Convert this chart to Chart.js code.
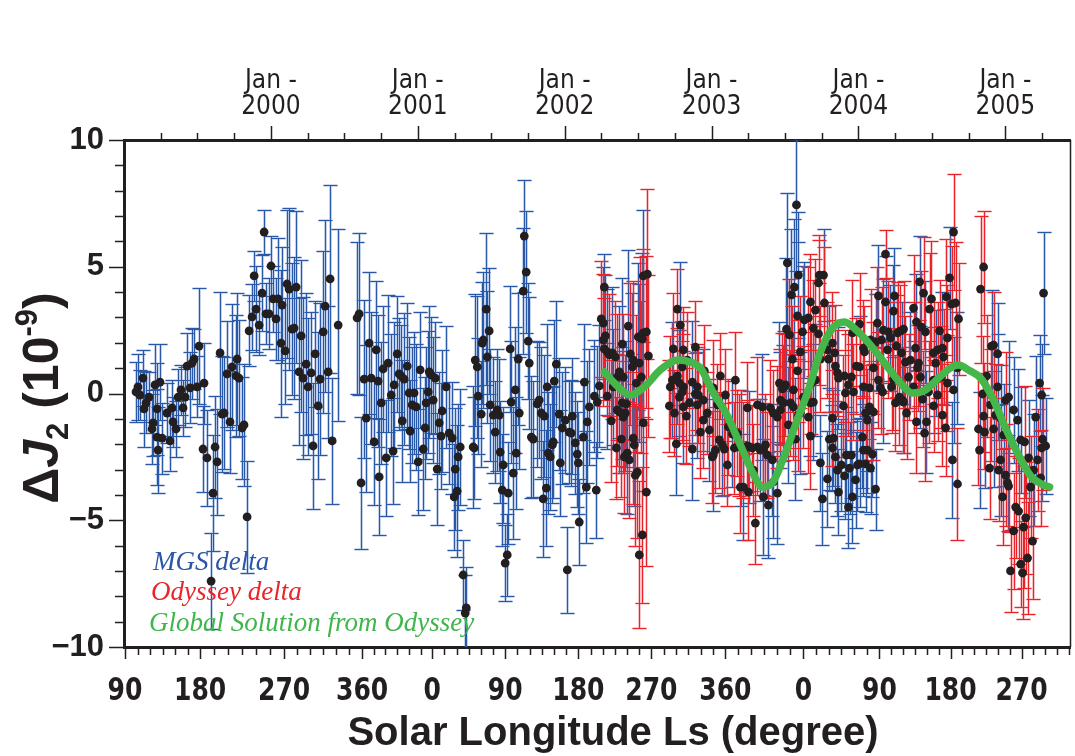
<!DOCTYPE html>
<html>
<head>
<meta charset="utf-8">
<title>Delta J2</title>
<script src="https://cdn.jsdelivr.net/npm/chart.js@4.4.1/dist/chart.umd.min.js"></script>
<style>
  html, body { margin: 0; padding: 0; background: #fff; }
</style>
</head>
<body>
<canvas id="j2Chart" width="1075" height="756"></canvas>
<script>
// time in decimal years, J2 residuals in units of 1e-9, err = 1-sigma half length

// MGS delta
const mgsT = [
  1999.082,1999.095,1999.109,1999.129,1999.136,1999.150,1999.170,1999.191,1999.198,1999.211,
  1999.225,1999.225,1999.232,1999.245,1999.259,1999.293,1999.313,1999.327,1999.334,1999.354,
  1999.368,1999.388,1999.402,1999.416,1999.429,1999.450,1999.463,1999.477,1999.497,1999.511,
  1999.538,1999.545,1999.565,1999.593,1999.606,1999.620,1999.634,1999.654,1999.668,1999.681,
  1999.702,1999.722,1999.736,1999.763,1999.770,1999.783,1999.804,1999.817,1999.838,1999.852,
  1999.872,1999.886,1999.899,1999.920,1999.940,1999.954,1999.967,1999.988,2000.001,2000.015,
  2000.035,2000.049,2000.069,2000.076,2000.097,2000.110,2000.124,2000.144,2000.158,2000.172,
  2000.192,2000.206,2000.219,2000.240,2000.253,2000.274,2000.287,2000.301,2000.322,2000.335,
  2000.356,2000.369,2000.390,2000.403,2000.417,2000.458,2000.587,2000.601,2000.614,2000.635,
  2000.649,2000.669,2000.683,2000.703,2000.717,2000.730,2000.737,2000.751,2000.764,2000.785,
  2000.798,2000.819,2000.832,2000.839,2000.860,2000.873,2000.887,2000.894,2000.907,2000.928,
  2000.941,2000.948,2000.962,2000.975,2000.989,2001.003,2001.016,2001.037,2001.050,2001.057,
  2001.071,2001.078,2001.091,2001.105,2001.119,2001.132,2001.146,2001.159,2001.166,2001.193,
  2001.214,2001.234,2001.248,2001.255,2001.268,2001.275,2001.289,2001.309,2001.323,2001.330,
  2001.377,2001.384,2001.391,2001.405,2001.411,2001.432,2001.439,2001.446,2001.466,2001.473,
  2001.486,2001.493,2001.514,2001.527,2001.541,2001.555,2001.561,2001.575,2001.582,2001.595,
  2001.609,2001.616,2001.629,2001.636,2001.650,2001.664,2001.670,2001.684,2001.691,2001.718,
  2001.725,2001.738,2001.752,2001.759,2001.773,2001.786,2001.813,2001.827,2001.841,2001.854,
  2001.861,2001.875,2001.881,2001.888,2001.902,2001.916,2001.922,2001.929,2001.943,2001.963,
  2001.970,2001.984,2002.004,2002.018,2002.031,2002.045,2002.052,2002.072,2002.086,2002.093,
  2002.099,2002.127,2002.134,2002.147,2002.154,2002.168,2002.202,2002.215,2002.222,2002.236,
  2002.263,2002.270,2002.277,2002.290,2002.324,2002.331,2002.372,2002.392,2002.433,2002.461,
  2002.501,2002.529,2002.508,2002.535,2002.392,2002.290,2002.372,2002.420,2002.426,2002.474,
  2002.535,2002.733,2002.781,2002.787,2002.869,2002.944,2002.760,2002.808,2002.869,2002.903,
  2002.985,2003.012,2003.074,2003.142,2003.203,2003.258,2003.332,2003.217,2003.353,2003.387,
  2003.414,2003.448,2003.421,2003.469,2003.523,2003.571,2003.693,2003.605,2003.346,2003.462,
  2003.489,2003.516,2003.510,2003.544,2003.564,2003.578,2003.585,2003.591,2003.619,2003.632,
  2003.673,2003.707,2003.762,2003.796,2003.864,2003.741,2003.755,2003.789,2003.802,2003.823,
  2003.843,2003.864,2003.857,2003.830,2003.884,2003.905,2003.918,2003.932,2003.939,2003.952,
  2003.959,2003.980,2003.993,2004.007,2004.034,2004.048,2004.061,2004.082,2004.095,2004.116,
  2004.027,2004.061,2003.952,2004.007,2004.116,2004.136,2004.170,2004.184,2004.218,2004.238,
  2004.245,2004.293,2004.354,2004.395,2004.416,2004.456,2004.525,2004.572,2004.620,2004.674,
  2004.164,2004.300,2004.422,2004.511,2004.647,2004.463,2004.640,2004.906,2004.947,2005.260,
  2005.233,2005.247,2004.824,2004.858,2004.920,2004.947,2004.967,2004.988,2005.015,2005.022,
  2005.056,2005.083,2005.104,2005.158,2005.192,2005.206,2005.247,2005.274,2004.967
];
const mgsJ2 = [
  0.06,0.26,-0.06,0.61,-0.61,-0.37,-0.14,-1.40,-1.16,0.34,
  -0.61,-1.72,-2.23,0.45,-1.76,-0.77,-1.87,-0.57,-1.12,-1.40,
  -0.14,0.14,-0.57,-0.14,1.08,0.22,1.20,1.36,0.26,1.87,
  -2.19,0.41,-2.54,-7.40,-3.93,-2.11,-2.70,1.60,-0.81,-0.77,
  0.77,-1.12,1.05,0.69,1.36,0.61,-1.36,-1.24,-4.87,2.47,
  3.02,4.64,3.33,2.70,3.96,6.37,3.14,3.14,5.03,3.73,
  2.94,3.73,1.99,3.49,1.68,4.32,4.12,2.54,2.58,4.20,
  0.85,2.27,0.61,1.16,0.26,0.81,-2.07,1.56,-0.49,0.57,
  2.43,3.45,0.85,4.52,-1.87,2.70,2.98,3.14,-3.53,0.57,
  -0.97,1.99,0.61,-1.91,1.72,0.49,-3.29,-0.37,0.97,-2.54,
  1.20,-0.06,-2.27,0.34,1.56,0.77,0.69,-1.08,0.57,1.08,
  0.02,-1.48,-0.45,0.02,-0.53,-2.70,0.93,-2.19,-1.36,-0.37,
  0.06,0.85,0.73,-0.26,0.61,-2.98,-1.16,-1.68,-0.69,0.26,
  -1.56,-1.76,-4.08,-2.98,-3.85,-2.50,-2.11,-7.16,-8.66,-8.46,
  -2.11,-2.15,1.32,1.05,-0.10,-0.81,1.99,2.11,3.33,1.44,
  2.47,-0.45,-0.85,-1.52,-0.65,-0.85,-2.31,-3.81,-2.82,-6.69,
  -6.37,-3.93,1.76,-0.34,-3.14,0.14,-2.35,1.36,-0.77,4.04,
  6.21,4.79,2.07,1.20,-1.72,-1.80,-0.41,-0.26,-0.77,-4.16,
  -0.89,-3.73,0.26,-2.35,-2.50,-2.03,-1.91,0.49,1.16,-0.81,
  -2.74,-1.36,-1.05,-6.96,-1.52,-1.56,-0.89,-1.95,-2.39,-2.74,
  -5.07,-1.72,0.45,-3.69,-1.12,-0.53,-0.10,-3.81,-0.34,0.30,
  2.78,4.20,2.27,1.64,1.60,0.26,0.85,1.95,2.66,1.05,
  2.23,2.15,1.20,4.64,-0.37,-0.10,-0.73,-0.41,-2.35,-2.03,
  -1.16,0.53,0.41,2.70,0.45,-0.26,-1.99,-0.53,-2.19,-0.45,
  -1.44,-2.43,-2.03,-1.60,-2.15,-2.11,-2.23,-3.69,-4.08,-4.40,
  -2.62,-3.93,-3.49,-0.65,-1.24,-1.80,-0.34,-0.77,-0.53,0.41,
  -0.37,5.15,2.54,3.89,4.20,7.44,3.06,4.67,2.43,2.90,
  -0.37,0.53,4.67,1.36,0.61,-2.74,-4.16,-3.37,-1.80,-2.15,
  -2.50,-3.89,-3.02,-1.76,-2.82,-3.25,-2.43,-4.48,-2.94,-2.43,
  -4.08,-3.41,-2.82,-2.78,-2.23,-2.78,-2.23,-2.94,-2.39,-3.77,
  -1.72,-1.05,0.65,1.05,2.03,3.85,2.50,3.61,2.19,3.25,
  3.85,1.60,1.32,2.82,4.40,2.43,1.20,1.79,4.56,1.01,
  0.06,-0.26,0.65,0.53,0.14,-1.12,-2.62,1.87,1.56,3.96,
  0.41,-0.06,-2.23,-1.52,-1.40,0.26,-2.62,-1.64,-3.53,-0.14,
  -0.65,-1.05,-1.83,-2.54,-3.02,-0.93,-2.15,-2.07,-0.97
];
const mgsErr = [
  1.2,1.3,1.0,1.1,1.5,1.2,1.0,1.4,1.3,1.6,
  1.8,1.9,1.7,1.5,1.4,1.2,1.2,1.1,1.0,1.1,
  1.1,1.0,1.1,1.2,1.3,1.4,1.4,1.2,1.2,2.3,
  1.7,1.6,1.9,1.9,2.3,2.0,2.1,2.4,2.3,2.2,
  2.1,2.0,2.5,2.4,2.6,2.3,2.0,2.4,2.2,1.4,
  1.3,1.0,1.7,1.2,1.5,0.85,1.2,1.4,1.2,1.3,
  1.6,2.4,2.9,2.3,2.1,2.9,3.2,2.6,2.8,3.0,
  2.9,3.0,3.2,2.8,2.7,2.4,2.5,2.1,2.9,3.0,
  3.2,3.4,2.6,3.7,2.5,3.8,3.0,3.2,2.6,3.1,
  2.9,2.8,2.6,2.5,2.7,2.6,2.3,2.4,2.5,2.3,
  2.7,2.4,2.1,2.5,2.3,2.2,2.0,2.4,2.6,2.5,
  2.2,2.0,2.3,2.4,2.5,2.1,2.3,2.4,2.0,2.2,
  2.4,2.6,2.3,2.5,2.2,2.2,2.0,2.1,2.4,2.4,
  2.0,2.2,2.1,2.4,2.6,2.1,2.3,1.4,1.5,1.6,
  2.4,2.0,2.6,2.8,2.3,2.1,2.4,2.7,3.0,2.6,
  2.5,2.2,2.3,2.0,2.4,2.2,2.0,2.2,2.3,1.5,
  1.6,2.0,2.5,2.4,2.6,2.5,2.2,2.6,2.2,2.5,
  2.2,2.4,2.3,2.6,2.4,2.3,2.5,2.3,2.6,2.3,
  2.4,2.3,2.5,2.4,2.1,2.3,2.2,2.4,2.5,2.2,
  2.1,2.2,2.1,1.7,2.0,2.1,2.3,2.0,2.1,2.0,
  1.7,2.2,2.3,2.2,2.4,2.3,2.2,1.9,2.2,2.4,
  2.2,1.3,2.4,2.5,2.6,2.3,2.6,2.6,3.0,2.9,
  2.9,3.4,3.1,2.6,2.2,2.1,2.4,2.5,2.4,2.4,
  2.7,2.3,2.1,2.5,2.4,2.0,2.0,2.2,2.0,2.1,
  2.0,2.2,2.0,2.1,2.3,2.2,2.0,2.1,2.3,2.1,
  2.2,2.0,2.2,2.3,2.3,2.4,2.3,2.4,2.1,2.4,
  2.3,2.75,2.8,2.6,2.7,2.6,2.9,2.5,2.6,2.3,
  2.1,2.2,1.8,2.1,2.0,1.9,1.8,1.9,2.0,1.7,
  1.8,1.7,1.8,1.9,1.8,1.7,1.9,1.6,1.8,1.7,
  1.8,1.9,1.8,1.7,1.8,1.9,1.7,1.8,1.7,1.6,
  2.0,2.0,2.1,2.0,1.9,2.0,2.0,1.8,2.1,1.8,
  1.9,2.0,1.9,1.9,1.8,2.0,2.1,2.2,2.0,2.2,
  2.0,2.1,2.0,2.1,2.1,2.0,2.3,2.2,2.0,2.4,
  1.9,2.0,2.3,2.2,2.3,2.1,2.2,2.0,1.9,2.2,
  2.1,2.0,2.1,2.3,2.2,2.4,2.1,1.9,2.1
];

// Odyssey delta
const odyT = [
  2002.249,2002.263,2002.270,2002.304,2002.345,2002.358,2002.399,2002.447,2002.467,2002.488,
  2002.515,2002.535,2002.522,2002.563,2002.556,2002.570,2002.413,2002.358,2002.317,2002.352,
  2002.399,2002.386,2002.406,2002.440,2002.467,2002.495,2002.481,2002.556,2002.529,2002.508,
  2002.719,2002.740,2002.767,2002.767,2002.801,2002.808,2002.808,2002.835,2002.890,2002.903,
  2002.910,2002.951,2003.012,2003.040,2002.713,2002.747,2002.781,2002.801,2002.828,2002.849,
  2002.890,2002.924,2002.944,2002.971,2003.005,2003.026,2003.053,2003.087,2003.108,2003.114,
  2003.155,2003.176,2003.189,2003.217,2003.244,2003.278,2003.285,2003.312,2003.353,2003.367,
  2003.251,2003.196,2003.298,2003.380,2003.401,2003.421,2003.448,2003.482,2003.503,2003.537,
  2003.557,2003.591,2003.625,2003.659,2003.673,2003.557,2003.244,2003.312,2003.094,2003.162,
  2003.060,2003.496,2003.469,2003.530,2003.550,2003.585,2003.605,2003.659,2003.673,2003.680,
  2003.693,2003.707,2003.728,2003.734,2003.768,2003.728,2003.741,2003.789,2003.823,2003.843,
  2003.857,2003.823,2003.898,2003.966,2004.048,2004.075,2004.102,2003.837,2003.905,2003.932,
  2003.911,2003.986,2004.007,2003.959,2004.041,2004.034,2004.075,2004.102,2004.129,2004.157,
  2004.184,2004.198,2004.204,2004.266,2004.286,2004.307,2004.320,2004.341,2004.375,2004.388,
  2004.409,2004.429,2004.443,2004.484,2004.497,2004.511,2004.538,2004.552,2004.579,2004.599,
  2004.606,2004.634,2004.647,2004.661,2004.681,2004.034,2004.082,2004.259,2004.136,2004.225,
  2004.238,2004.279,2004.375,2004.402,2004.436,2004.477,2004.538,2004.565,2004.606,2004.150,
  2004.252,2004.307,2004.327,2004.395,2004.450,2004.511,2004.572,2004.593,2004.674,2004.831,
  2004.852,2004.920,2004.872,2004.845,2004.817,2004.852,2004.892,2004.954,2004.981,2005.001,
  2005.022,2005.070,2005.090,2005.131,2005.138,2005.124,2005.056,2005.104,2005.151,2005.035,
  2005.117,2005.172,2005.185,2005.219,2005.240,2005.253,2004.899,2004.933,2005.001
];
const odyJ2 = [
  2.94,2.11,1.76,1.52,1.44,0.65,0.65,1.56,1.32,0.41,
  2.19,2.39,0.65,4.71,2.43,1.48,-0.77,-0.65,-1.08,-2.15,
  -0.93,-1.80,-2.50,-2.62,-1.76,-3.10,-3.22,-3.89,-5.58,-6.37,
  0.26,1.76,3.33,0.69,1.05,1.72,0.26,1.32,1.83,0.26,
  -0.06,0.89,0.22,-0.45,-0.49,-0.77,-0.14,0.06,-0.89,-0.37,
  -0.02,-1.52,-1.05,-0.77,-2.50,-2.23,-1.83,-2.19,-2.82,-1.32,
  -2.15,-1.56,-2.03,-2.23,-2.07,-2.15,-3.02,-2.11,-2.19,-2.03,
  -3.89,-3.69,-5.11,-2.43,-0.57,-0.77,-0.93,0.18,0.34,-0.37,
  0.14,-0.85,-0.14,-0.93,-1.68,-0.53,-0.57,-0.45,-0.06,0.53,
  0.69,0.26,-0.26,2.31,1.36,0.89,1.64,2.98,3.61,0.41,
  2.58,3.29,4.36,4.67,3.57,2.35,1.36,1.72,1.99,1.08,
  0.81,-0.97,-0.49,0.06,-0.77,-0.53,-0.73,1.60,0.69,0.34,
  0.02,1.08,2.74,2.39,1.64,0.26,0.22,1.01,2.78,2.11,
  5.50,1.72,2.43,2.39,2.47,2.54,1.24,0.65,3.37,1.79,
  1.20,2.62,3.96,3.33,3.73,1.60,1.72,2.47,1.44,3.81,
  2.19,3.53,6.37,3.57,2.94,1.79,2.11,1.87,0.53,0.26,
  0.57,-0.14,0.26,1.01,-0.22,0.06,-0.06,0.65,0.41,0.22,
  -0.37,-0.34,-0.77,-1.12,-1.56,-0.49,-0.85,-1.36,-3.57,4.12,
  4.99,1.91,0.69,-0.02,-1.40,-0.89,-2.94,-3.02,-4.08,-3.22,
  -3.65,-4.48,-4.64,-1.91,-4.91,-5.27,-5.42,-6.73,-6.49,-7.00,
  -7.08,-3.69,-5.82,-2.62,-3.33,-1.80,-0.45,-0.85,-0.26
];
const odyErr = [
  2.3,2.6,2.0,2.4,2.2,2.5,2.5,2.8,3.1,2.7,
  3.2,3.3,3.0,3.35,3.0,3.2,2.3,2.2,2.4,2.0,
  2.2,2.3,2.2,2.3,2.6,2.6,2.8,2.9,2.7,2.9,
  2.0,2.2,1.6,1.9,1.8,1.7,2.1,1.9,1.8,1.7,
  1.9,1.8,1.9,1.6,1.8,1.7,1.8,2.0,1.9,1.7,
  1.6,1.8,1.9,1.6,1.8,1.7,1.9,1.8,1.6,1.9,
  1.8,1.7,2.0,1.9,1.8,1.7,1.8,1.9,1.8,2.0,
  1.9,1.8,1.6,1.7,1.9,1.7,2.0,2.2,2.0,2.1,
  2.3,2.2,2.0,2.2,2.1,2.1,1.8,1.9,1.8,1.9,
  1.7,2.2,2.0,2.2,2.1,2.0,2.2,2.0,1.9,2.0,
  1.9,2.0,1.7,1.6,2.2,2.0,2.1,1.9,2.0,1.8,
  1.7,1.9,2.0,1.9,1.9,1.8,1.9,1.9,1.8,2.0,
  1.7,1.9,2.0,2.1,1.8,1.7,2.0,1.8,2.2,2.1,
  0.95,1.9,2.0,2.0,1.8,1.9,1.8,1.7,2.1,1.8,
  1.7,2.2,2.2,2.2,2.3,2.0,1.9,2.0,1.9,2.3,
  2.1,2.3,2.3,2.4,2.2,1.9,2.0,2.0,1.9,1.8,
  2.0,1.9,1.8,1.7,1.9,2.0,1.8,2.0,1.9,1.8,
  1.9,2.0,1.8,2.0,1.9,1.8,2.0,1.9,2.2,2.9,
  2.2,2.1,2.4,2.3,2.2,2.1,2.0,2.0,1.9,2.0,
  1.8,2.0,2.1,2.2,2.2,2.4,2.3,1.7,2.2,1.6,
  1.8,2.0,2.3,2.0,1.9,2.0,2.2,2.0,1.9
];

// Global Solution from Odyssey
const fitT = [
  2002.270,2002.345,2002.447,2002.549,2002.651,2002.774,2002.856,2002.924,2003.012,2003.094,
  2003.196,2003.278,2003.346,2003.414,2003.482,2003.571,2003.659,2003.741,2003.823,2003.905,
  2003.986,2004.082,2004.198,2004.286,2004.368,2004.456,2004.545,2004.627,2004.681,2004.749,
  2004.831,2004.913,2005.001,2005.090,2005.172,2005.260,2005.301
];
const fitJ2 = [
  0.85,0.37,-0.06,0.30,0.93,1.32,1.24,1.01,0.02,-0.73,
  -2.03,-3.10,-3.69,-3.53,-2.66,-1.24,0.14,1.64,2.58,2.82,
  2.50,1.91,1.05,0.41,0.02,0.14,0.61,1.01,1.12,0.93,
  0.61,-0.18,-1.36,-2.43,-3.25,-3.61,-3.69
];

// bottom axis: solar longitude labels and where they fall in time
const lsTickPos = [1999.007, 1999.518, 2000.090, 2000.621, 2001.098, 2001.595, 2002.093,
                   2002.590, 2003.094, 2003.625, 2004.143, 2004.627, 2005.110];
const lsTickLabels = ['90', '180', '270', '360', '0', '90', '180', '270', '360', '0', '90', '180', '270'];
// top axis: calendar years
const yearTicks = [2000, 2001, 2002, 2003, 2004, 2005];

const INK = '#231f20';
const SANS = "'Liberation Sans', Arial, sans-serif";
const NARROW = "'Liberation Sans Narrow', 'DejaVu Sans Condensed', sans-serif";
const SERIF = "'Liberation Serif', 'Times New Roman', serif";

const toPoints = (xs, ys) => xs.map((x, i) => ({ x: x, y: ys[i] }));

// vertical error bars with caps, under the dots
const errorBars = {
  id: 'errorBars',
  beforeDatasetsDraw(chart) {
    const { ctx, chartArea: a, scales: { x, y } } = chart;
    ctx.save();
    ctx.beginPath();
    ctx.rect(a.left, a.top, a.right - a.left, a.bottom - a.top);
    ctx.clip();
    const draw = (ts, vs, es, color, width) => {
      ctx.strokeStyle = color;
      ctx.lineWidth = width;
      ctx.beginPath();
      ts.forEach((t, i) => {
        const px = Math.round(x.getPixelForValue(t)) + 0.5;
        const hi = Math.round(y.getPixelForValue(vs[i] + es[i])) + 0.5;
        const lo = Math.round(y.getPixelForValue(vs[i] - es[i])) + 0.5;
        ctx.moveTo(px, hi); ctx.lineTo(px, lo);
        ctx.moveTo(px - 7, hi); ctx.lineTo(px + 7, hi);
        ctx.moveTo(px - 7, lo); ctx.lineTo(px + 7, lo);
      });
      ctx.stroke();
    };
    draw(mgsT, mgsJ2, mgsErr, 'rgba(70,120,195,0.35)', 2.6);
    draw(mgsT, mgsJ2, mgsErr, '#2a58a8', 1.1);
    draw(odyT, odyJ2, odyErr, 'rgba(240,80,85,0.35)', 2.6);
    draw(odyT, odyJ2, odyErr, '#e8232a', 1.1);
    ctx.restore();
  }
};

// tick marks, Ls labels, axis titles and the in-plot key
const decorations = {
  id: 'decorations',
  afterDraw(chart) {
    const { ctx, chartArea: a, scales: { x, y } } = chart;
    ctx.save();
    ctx.strokeStyle = INK;
    ctx.fillStyle = INK;
    ctx.lineWidth = 1.5;
    ctx.beginPath();
    // left axis: a tick every unit, longer at the labelled ones
    for (let v = -10; v <= 10; v++) {
      const py = Math.round(y.getPixelForValue(v)) + 0.5;
      const len = v % 5 === 0 ? 14 : 8;
      ctx.moveTo(a.left - 1 - len, py); ctx.lineTo(a.left - 1, py);
    }
    // top axis: quarter years
    for (let q = 1; 1999 + q / 4 <= x.max; q++) {
      const px = Math.round(x.getPixelForValue(1999 + q / 4)) + 0.5;
      const len = q % 4 === 0 ? 13 : 6;
      ctx.moveTo(px, a.top - 1); ctx.lineTo(px, a.top - 1 - len);
    }
    // bottom axis: labelled Ls ticks with five minor ticks between them
    const tickAt = (t, len) => {
      if (t > x.max) return;
      const px = Math.round(x.getPixelForValue(t)) + 0.5;
      ctx.moveTo(px, a.bottom + 1); ctx.lineTo(px, a.bottom + 1 + len);
    };
    lsTickPos.forEach((t, i) => {
      tickAt(t, 11);
      const next = i < lsTickPos.length - 1 ? lsTickPos[i + 1] : t + (t - lsTickPos[i - 1]);
      for (let k = 1; k < 6; k++) tickAt(t + (next - t) * k / 6, 7);
    });
    ctx.stroke();

    // thin right frame
    ctx.lineWidth = 1.5;
    ctx.beginPath();
    ctx.moveTo(a.right + 0.5, a.top);
    ctx.lineTo(a.right + 0.5, a.bottom);
    ctx.stroke();

    // Ls labels, condensed bold
    ctx.font = 'bold 32px ' + NARROW;
    ctx.textAlign = 'center';
    ctx.textBaseline = 'alphabetic';
    lsTickPos.forEach((t, i) => {
      ctx.save();
      ctx.translate(x.getPixelForValue(t), 700);
      ctx.scale(0.87, 1);
      ctx.fillText(lsTickLabels[i], 0, 0);
      ctx.restore();
    });

    // x title
    ctx.font = 'bold 40px ' + SANS;
    ctx.fillText('Solar Longitude Ls (degree)', 613, 745);

    // y title: ΔJ2 (10^-9), rotated
    const S = 50;
    const parts = [
      { t: '\u0394', f: 'bold ' + S + 'px ' + SANS, dy: 0 },
      { t: 'J', f: 'italic bold ' + S + 'px ' + SANS, dy: 0 },
      { t: '2', f: 'bold ' + Math.round(S * 0.62) + 'px ' + SANS, dy: S * 0.2 },
      { t: ' (10', f: 'bold ' + S + 'px ' + SANS, dy: 0 },
      { t: '-9', f: 'bold ' + Math.round(S * 0.62) + 'px ' + SANS, dy: -S * 0.42 },
      { t: ')', f: 'bold ' + S + 'px ' + SANS, dy: 0 }
    ];
    let total = 0;
    parts.forEach(p => { ctx.font = p.f; p.w = ctx.measureText(p.t).width; total += p.w; });
    ctx.save();
    ctx.translate(40 + S * 0.36, 398);
    ctx.rotate(-Math.PI / 2);
    ctx.textAlign = 'left';
    let u = -total / 2;
    parts.forEach(p => { ctx.font = p.f; ctx.fillText(p.t, u, p.dy); u += p.w; });
    ctx.restore();

    // key inside the plot
    ctx.textAlign = 'left';
    ctx.font = 'italic 27px ' + SERIF;
    ctx.fillStyle = '#2b57a7';
    ctx.fillText('MGS delta', 153, 570);
    ctx.fillStyle = '#e8252b';
    ctx.fillText('Odyssey delta', 151, 600);
    ctx.fillStyle = '#3fb54b';
    ctx.fillText('Global Solution from Odyssey', 149, 631);
    ctx.restore();
  }
};

new Chart(document.getElementById('j2Chart'), {
  type: 'scatter',
  data: {
    datasets: [
      {
        label: 'Global Solution from Odyssey',
        data: toPoints(fitT, fitJ2),
        showLine: true,
        borderColor: '#45b649',
        borderWidth: 7.5,
        borderCapStyle: 'round',
        borderJoinStyle: 'round',
        cubicInterpolationMode: 'monotone',
        pointRadius: 0,
        order: 0
      },
      {
        label: 'MGS delta',
        data: toPoints(mgsT, mgsJ2),
        pointRadius: 4.4,
        backgroundColor: INK,
        borderWidth: 0,
        order: 1
      },
      {
        label: 'Odyssey delta',
        data: toPoints(odyT, odyJ2),
        pointRadius: 4.4,
        backgroundColor: INK,
        borderWidth: 0,
        order: 1
      }
    ]
  },
  options: {
    responsive: false,
    animation: false,
    events: [],
    layout: { padding: { left: 0, right: 5, top: 0, bottom: 0 } },
    plugins: { legend: { display: false }, tooltip: { enabled: false } },
    scales: {
      x: {
        type: 'linear',
        position: 'bottom',
        min: 1999,
        max: 2005.44,
        ticks: { display: false },
        grid: { display: false, drawTicks: false },
        border: { display: true, width: 3, color: INK },
        afterFit: s => { s.height = 109; }
      },
      x2: {
        type: 'linear',
        axis: 'x',
        position: 'top',
        min: 1999,
        max: 2005.44,
        afterBuildTicks: s => { s.ticks = yearTicks.map(v => ({ value: v })); },
        ticks: {
          autoSkip: false,
          maxRotation: 0,
          minRotation: 0,
          padding: 20,
          color: INK,
          font: { family: NARROW, size: 26, lineHeight: 1.0 },
          callback: v => ['Jan -', String(v)]
        },
        grid: { display: false, drawTicks: false },
        border: { display: true, width: 3, color: INK },
        afterFit: s => { s.height = 140; }
      },
      y: {
        type: 'linear',
        min: -10,
        max: 10,
        ticks: {
          stepSize: 5,
          padding: 20,
          color: INK,
          font: { family: SANS, size: 31, weight: 'bold' },
          callback: v => (v < 0 ? '\u2212' + Math.abs(v) : String(v))
        },
        grid: { display: false, drawTicks: false },
        border: { display: true, width: 3, color: INK },
        afterFit: s => { s.width = 124; }
      }
    }
  },
  plugins: [errorBars, decorations]
});
</script>
</body>
</html>
